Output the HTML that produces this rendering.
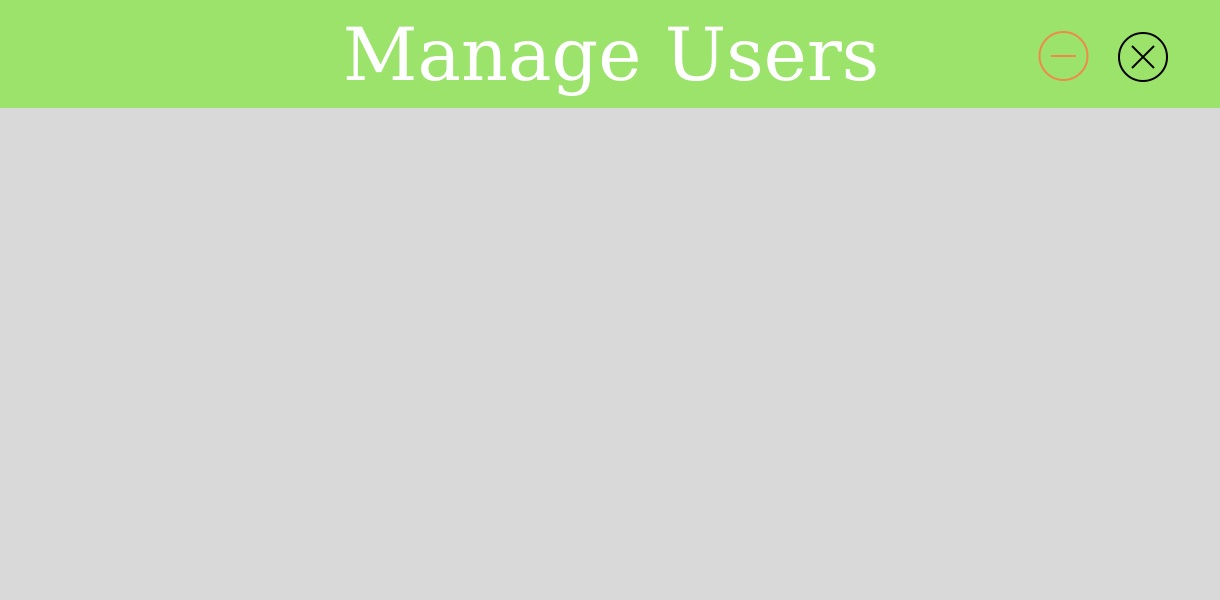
<!DOCTYPE html>
<html><head><style>
html,body{margin:0;padding:0;width:1220px;height:600px;background:#d9d9d9;overflow:hidden}
.hdr{position:absolute;left:0;top:0;width:1220px;height:108px;background:#9be36a}
.t{position:absolute;left:0;width:1222px;top:6px;text-align:center;color:#fff;font-family:"DejaVu Serif","Liberation Serif",serif;font-size:73px;line-height:100px}
svg{position:absolute;left:0;top:0}
</style></head><body>
<div class="hdr"></div>
<div class="t">Manage Users</div>
<svg width="1220" height="108">
<circle cx="1063.5" cy="56" r="24" fill="none" stroke="#ef8a4a" stroke-width="2"/>
<line x1="1051" y1="56" x2="1076" y2="56" stroke="#ef8a4a" stroke-width="2"/>
<circle cx="1143" cy="57" r="24" fill="none" stroke="#000" stroke-width="2"/>
<line x1="1132" y1="46" x2="1154" y2="68" stroke="#000" stroke-width="2"/>
<line x1="1154" y1="46" x2="1132" y2="68" stroke="#000" stroke-width="2"/>
</svg>
</body></html>
